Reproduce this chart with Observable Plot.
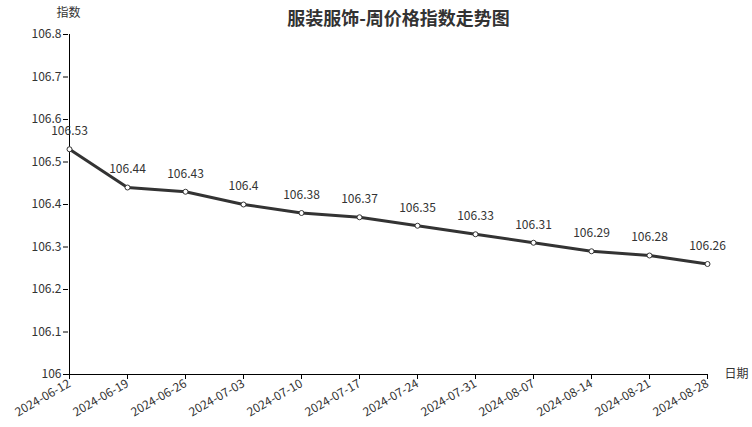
<!DOCTYPE html>
<html><head><meta charset="utf-8">
<script src="https://cdn.jsdelivr.net/npm/d3@7"></script>
<script src="https://cdn.jsdelivr.net/npm/@observablehq/plot@0.6"></script>
<style>body{margin:0;background:#fff;} svg{font-family:"Noto Sans CJK SC","Noto Sans",sans-serif;}</style>
</head><body><div id="chart"></div>
<script>
const dates = ["2024-06-12","2024-06-19","2024-06-26","2024-07-03","2024-07-10","2024-07-17","2024-07-24","2024-07-31","2024-08-07","2024-08-14","2024-08-21","2024-08-28"];
const values = [106.53,106.44,106.43,106.4,106.38,106.37,106.35,106.33,106.31,106.29,106.28,106.26];
const yTicks = [106,106.1,106.2,106.3,106.4,106.5,106.6,106.7,106.8];
const title = "服装服饰-周价格指数走势图";
const yLabel = "指数";
const xLabel = "日期";
const data = dates.map((d,i)=>({date:d, value:values[i]}));
const ink = "#333";
const chart = Plot.plot({
  width: 752, height: 427,
  marginLeft: 68, marginRight: 44, marginTop: 34, marginBottom: 53,
  style: {fontFamily: '"Noto Sans CJK SC","Noto Sans",sans-serif', fontSize: "12px", color: ink, background: "#fff"},
  x: {type: "point", domain: dates, padding: 0},
  y: {domain: [106, 106.8]},
  marks: [
    Plot.axisY({ticks: yTicks, tickFormat: d => String(+d.toFixed(1)), tickSize: 5, tickPadding: 2, label: null, fontSize: 12, stroke: "#000", fill: ink}),
    Plot.axisX({tickRotate: -30, tickSize: 5, tickPadding: 3, label: null, fontSize: 12, stroke: "#000", fill: ink}),
    Plot.ruleY([106], {stroke: "#000", strokeWidth: 1}),
    Plot.ruleX([dates[0]], {stroke: "#000", strokeWidth: 1}),
    Plot.line(data, {x: "date", y: "value", stroke: ink, strokeWidth: 3}),
    Plot.dot(data, {x: "date", y: "value", r: 2.5, fill: "#fff", stroke: ink, strokeWidth: 1}),
    Plot.text(data, {x: "date", y: "value", text: d => String(d.value), dy: -18, fill: ink, fontSize: 12}),
    Plot.text([title], {frameAnchor: "top", dy: -22, dx: 10, fontSize: 18, fontWeight: "bold", fill: ink}),
    Plot.text([yLabel], {frameAnchor: "top-left", textAnchor: "middle", lineAnchor: "middle", dy: -21, fontSize: 12, fill: ink}),
    Plot.text([xLabel], {frameAnchor: "bottom-right", textAnchor: "start", lineAnchor: "middle", dx: 16, dy: 0, fontSize: 12, fill: ink})
  ]
});
document.getElementById("chart").appendChild(chart);
</script></body></html>
